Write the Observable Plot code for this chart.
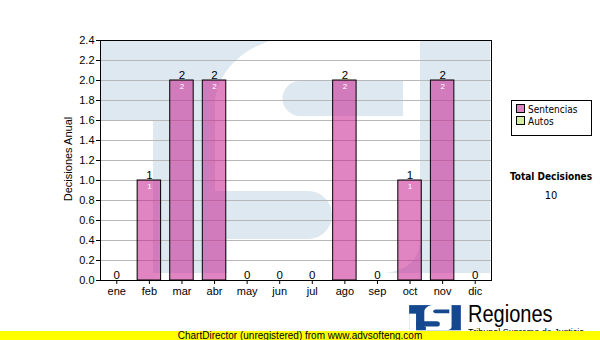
<!DOCTYPE html>
<html>
<head>
<meta charset="utf-8">
<script src="https://cdn.jsdelivr.net/npm/d3@7"></script>
<script src="https://cdn.jsdelivr.net/npm/@observablehq/plot@0.6"></script>
<style>
  html, body { margin: 0; padding: 0; background: white; }
  #wrap { position: relative; width: 600px; height: 340px; overflow: hidden; background: white; }
  #chart { position: absolute; left: 0; top: 0; }
  .legend { position: absolute; left: 511px; top: 100px; width: 79px; height: 34px; border: 1px solid black;
            font-family: "DejaVu Sans", Verdana, sans-serif; font-stretch: condensed; font-size: 10px; color: #000; }
  .legend .item { position: absolute; left: 4px; height: 12px; line-height: 12px; white-space: nowrap; }
  .legend .sw { display: inline-block; width: 7px; height: 7px; border: 1px solid black; margin-right: 3px; vertical-align: 0px; }
  .total { position: absolute; left: 500px; width: 102px; text-align: center; font-family: "DejaVu Sans", Verdana, sans-serif; font-stretch: condensed; color: #000; }
  .banner { position: absolute; left: 0; top: 331px; width: 600px; height: 9px; background: #ffff00;
            font-family: "Liberation Sans", Arial, sans-serif; font-size: 10px; line-height: 10px; text-align: center; color: #000; }
  .brand { position: absolute; left: 468px; top: 301px; font-family: "Liberation Sans", Arial, sans-serif; font-size: 23px; color: #000; line-height: 26px;
           transform: scaleX(0.87); transform-origin: 0 0; }
  .brand2 { position: absolute; left: 468px; top: 327px; font-family: "Liberation Sans", Arial, sans-serif; font-size: 9px; color: #000; white-space: nowrap; }
</style>
</head>
<body>
<div id="wrap">
  <div id="chart"></div>
</div>
<script>
const months = ["ene", "feb", "mar", "abr", "may", "jun", "jul", "ago", "sep", "oct", "nov", "dic"];
const sentencias = [0, 1, 2, 2, 0, 0, 0, 2, 0, 1, 2, 0];
const autos = [0, 0, 0, 0, 0, 0, 0, 0, 0, 0, 0, 0];
const yTicks = [0, 0.2, 0.4, 0.6, 0.8, 1.0, 1.2, 1.4, 1.6, 1.8, 2.0, 2.2, 2.4];
const seriesNames = ["Sentencias", "Autos"];
const seriesColors = ["#df80c0", "#d4eea0"];
const yLabel = "Decisiones Anual";
const totalTitle = "Total Decisiones";

const rows = months.map((m, i) => ({month: m, sentencias: sentencias[i], autos: autos[i], total: sentencias[i] + autos[i]}));
const totalAll = d3.sum(rows, d => d.total);

function watermark(blue) {
  return `<rect x="1" y="1" width="389" height="232" fill="${blue}"/>
  <rect x="1" y="80" width="52" height="160" fill="white"/>
  <path d="M170,1 L320,1 L320,200 C320,220 305,233 280,233 L127,233 L127,198 L115,198 L115,65 C115,35 140,10 170,1 Z" fill="white"/>
  <path d="M200,41 L303,41 L303,76 L200,76 A17.5,17.5 0 0 1 200,41 Z" fill="${blue}"/>
  <path d="M53,151 L208,151 A24,24 0 0 1 208,199 L53,199 Z" fill="${blue}"/>`;
}

const mL = 100, mR = 109, mT = 40, mB = 50;
const plot = Plot.plot({
  width: 600,
  height: 330,
  marginLeft: mL,
  marginRight: mR,
  marginTop: mT,
  marginBottom: mB,
  style: {background: "transparent", fontFamily: "'Liberation Sans', Arial, sans-serif", fontSize: "11px", color: "black", overflow: "visible"},
  x: {domain: months, paddingInner: 0.28, paddingOuter: 0.14, round: false},
  y: {domain: [0, 2.4]},
  marks: [
    Plot.gridY(yTicks, {stroke: "#b8b8b8", strokeOpacity: 1}),
    Plot.barY(rows.filter(d => d.sentencias > 0), {x: "month", y: "sentencias", fill: "#c8208f", fillOpacity: 0.55, stroke: "black", strokeWidth: 1}),
    Plot.text(rows, {x: "month", y: "total", text: d => String(d.total), lineAnchor: "bottom", dy: -2, fontSize: 11.5, fill: "black"}),
    Plot.text(rows.filter(d => d.sentencias > 0), {x: "month", y: "sentencias", text: d => String(d.sentencias), lineAnchor: "top", dy: 3, fontSize: 8, fill: "white"}),
    Plot.axisY(yTicks, {tickFormat: d3.format(".1f"), tickSize: 4, tickPadding: 2, fontSize: 11, label: null}),
    Plot.axisX({tickSize: 4, tickPadding: 3, fontSize: 11, label: null}),
    Plot.frame({stroke: "black"})
  ]
});

// watermark behind everything inside the plot frame
const ns = "http://www.w3.org/2000/svg";
const g = document.createElementNS(ns, "g");
const fw = 600 - mL - mR, fh = 330 - mT - mB;
g.setAttribute("transform", `translate(${mL},${mT}) scale(${fw / 391},${fh / 240})`);
g.innerHTML = watermark("#dee8f1");
const bg = document.createElementNS(ns, "rect");
bg.setAttribute("width", 600); bg.setAttribute("height", 330); bg.setAttribute("fill", "white");
const firstMark = plot.querySelector("style") ? plot.querySelector("style").nextSibling : plot.firstChild;
plot.insertBefore(bg, firstMark);
plot.insertBefore(g, firstMark);

// y axis title
const t = document.createElementNS(ns, "text");
t.setAttribute("transform", `translate(72,${mT + fh / 2 - 1}) rotate(-90)`);
t.setAttribute("text-anchor", "middle");
t.setAttribute("font-size", "11");
t.setAttribute("fill", "black");
t.textContent = yLabel;
plot.appendChild(t);

document.getElementById("chart").appendChild(plot);

const wrap = document.getElementById("wrap");
// legend
const leg = document.createElement("div");
leg.className = "legend";
seriesNames.forEach((n, i) => {
  const it = document.createElement("div");
  it.className = "item";
  it.style.top = (3 + i * 12) + "px";
  it.innerHTML = `<span class="sw" style="background:${seriesColors[i]}"></span>${n}`;
  leg.appendChild(it);
});
wrap.appendChild(leg);

const tt = document.createElement("div");
tt.className = "total";
tt.style.top = "171px"; tt.style.fontWeight = "bold"; tt.style.fontSize = "10px";
tt.textContent = totalTitle;
wrap.appendChild(tt);
const tv = document.createElement("div");
tv.className = "total";
tv.style.top = "189px"; tv.style.fontSize = "11px";
tv.textContent = String(totalAll);
wrap.appendChild(tv);

// logo
const logo = document.createElementNS(ns, "svg");
logo.setAttribute("width", 52); logo.setAttribute("height", 26);
logo.setAttribute("viewBox", "0 0 391 240");
logo.setAttribute("preserveAspectRatio", "none");
logo.style.position = "absolute"; logo.style.left = "409px"; logo.style.top = "305px";
logo.innerHTML = watermark("#15488f");
wrap.appendChild(logo);
const br = document.createElement("div"); br.className = "brand"; br.textContent = "Regiones"; wrap.appendChild(br);
const br2 = document.createElement("div"); br2.className = "brand2"; br2.textContent = "Tribunal Supremo de Justicia"; wrap.appendChild(br2);

const ban = document.createElement("div");
ban.className = "banner";
ban.textContent = "ChartDirector (unregistered) from www.advsofteng.com";
wrap.appendChild(ban);
</script>
</body>
</html>
